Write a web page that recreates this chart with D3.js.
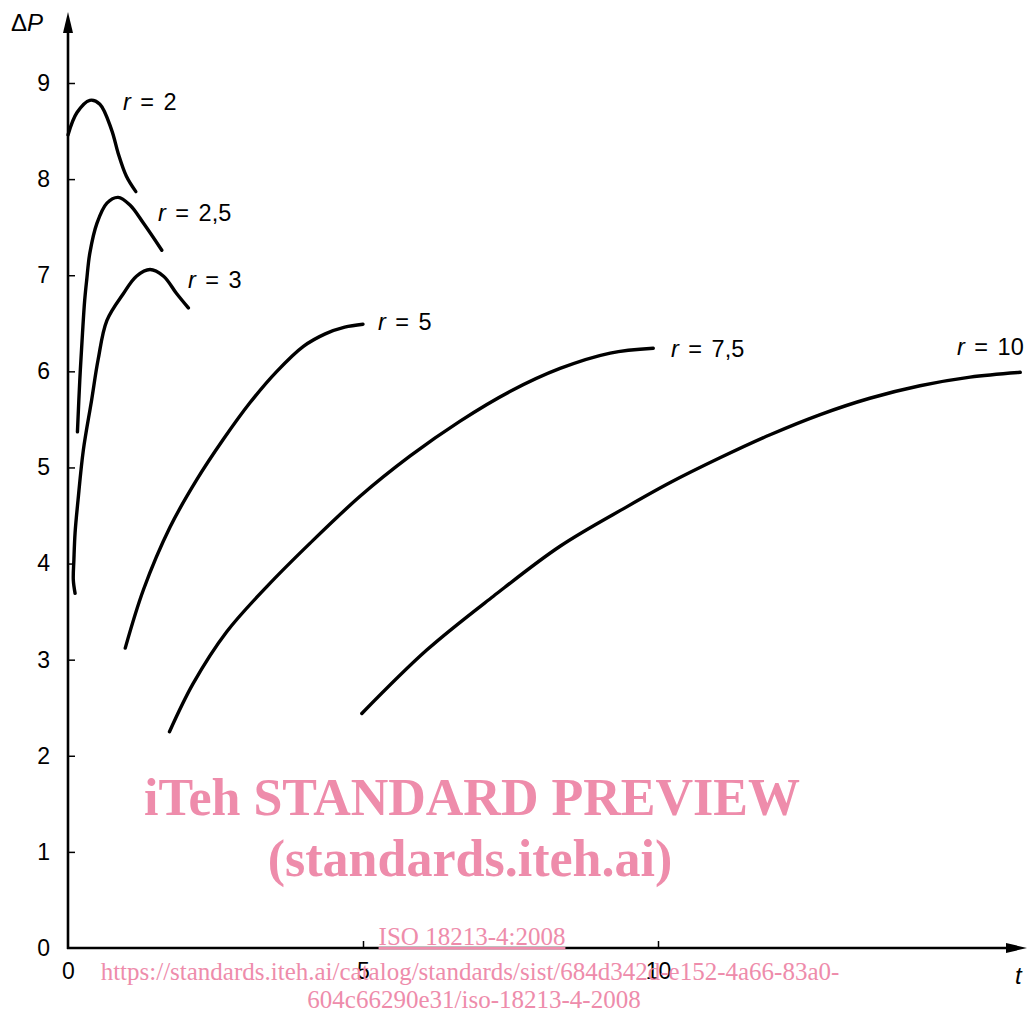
<!DOCTYPE html>
<html>
<head>
<meta charset="utf-8">
<script src="https://cdn.jsdelivr.net/npm/d3@7"></script>
<style>
  body { margin: 0; background: #fff; }
  svg { display: block; }
  .tick text { font-family: "Liberation Sans", Arial, sans-serif; font-size: 23px; fill: #000; }
  .lbl { font-family: "Liberation Sans", Arial, sans-serif; font-size: 23.5px; fill: #000; }
  .wm { font-family: "Liberation Serif", "Times New Roman", serif; fill: #ee8cab; }
</style>
</head>
<body>
<div id="chart"></div>
<script>
// curves: t (x) and deltaP (y)
const r2_t = [0, 0.15, 0.37, 0.54, 0.74, 0.85, 0.99, 1.15];
const r2_p = [8.46, 8.69, 8.82, 8.78, 8.51, 8.27, 8.03, 7.87];

const r25_t = [0.16, 0.20, 0.246, 0.283, 0.317, 0.37, 0.49, 0.66, 0.85, 1.05, 1.28, 1.59];
const r25_p = [5.37, 5.91, 6.40, 6.74, 6.95, 7.23, 7.54, 7.75, 7.81, 7.73, 7.54, 7.26];

const r3_t = [0.12, 0.09, 0.10, 0.12, 0.17, 0.26, 0.40, 0.51, 0.66, 0.94, 1.16, 1.39, 1.62, 1.84, 2.04];
const r3_p = [3.69, 3.83, 4.04, 4.32, 4.66, 5.18, 5.70, 6.12, 6.53, 6.81, 6.99, 7.06, 6.99, 6.81, 6.66];

const r5_t = [0.97, 1.28, 1.73, 2.18, 2.63, 3.08, 3.54, 3.99, 4.36, 4.69, 5.00];
const r5_p = [3.12, 3.73, 4.38, 4.87, 5.29, 5.67, 6.00, 6.26, 6.39, 6.46, 6.49];

const r75_t = [1.72, 2.12, 2.69, 3.37, 4.10, 4.95, 5.80, 6.64, 7.49, 8.34, 9.19, 9.92];
const r75_p = [2.25, 2.75, 3.29, 3.76, 4.21, 4.70, 5.12, 5.48, 5.79, 6.03, 6.19, 6.24];

const r10_t = [4.98, 6.08, 7.21, 8.34, 9.47, 10.20, 11.05, 11.90, 12.75, 13.59, 14.44, 15.29, 16.14];
const r10_p = [2.44, 3.10, 3.66, 4.18, 4.59, 4.84, 5.10, 5.34, 5.55, 5.72, 5.85, 5.94, 5.99];

const curveNames = ["2", "2,5", "3", "5", "7,5", "10"];
const yTicks = [0, 1, 2, 3, 4, 5, 6, 7, 8, 9];
const xTicks = [0, 5, 10];

const W = 1034, H = 1016;
const svg = d3.select("#chart").append("svg").attr("width", W).attr("height", H);

const x = d3.scaleLinear().domain([0, 10]).range([68, 658]);
const y = d3.scaleLinear().domain([0, 9]).range([948, 83]);

// axes
const yAxis = svg.append("g").attr("transform", "translate(" + x(0) + ",0)")
  .call(d3.axisLeft(y).tickValues(yTicks).tickSize(-7).tickPadding(18).tickFormat(d3.format("d")));
const xAxis = svg.append("g").attr("transform", "translate(0," + y(0) + ")")
  .call(d3.axisBottom(x).tickValues(xTicks).tickSize(-7).tickPadding(15).tickFormat(d3.format("d")));
[yAxis, xAxis].forEach(g => {
  g.select(".domain").remove();
  g.selectAll(".tick line").attr("stroke", "#000").attr("stroke-width", 1.5)
    .filter(d => d === 0).remove();
});

svg.append("line").attr("x1", x(0)).attr("x2", x(0)).attr("y1", y(0) + 1).attr("y2", 30)
  .attr("stroke", "#000").attr("stroke-width", 2.6);
svg.append("path").attr("d", "M" + x(0) + ",12L" + (x(0) - 5) + ",33L" + (x(0) + 5) + ",33Z").attr("fill", "#000");
svg.append("line").attr("x1", x(0) - 1).attr("x2", 1010).attr("y1", y(0)).attr("y2", y(0))
  .attr("stroke", "#000").attr("stroke-width", 2.6);
svg.append("path").attr("d", "M1027," + y(0) + "L1006," + (y(0) - 5) + "L1006," + (y(0) + 5) + "Z").attr("fill", "#000");

svg.append("text").attr("class", "lbl").attr("x", 11).attr("y", 31).style("font-size", "24px")
  .html('\u0394<tspan font-style="italic">P</tspan>');
svg.append("text").attr("class", "lbl").attr("x", 1015).attr("y", 984).style("font-size", "24px")
  .attr("font-style", "italic").text("t");

// curves
const series = [[r2_t, r2_p], [r25_t, r25_p], [r3_t, r3_p], [r5_t, r5_p], [r75_t, r75_p], [r10_t, r10_p]];
const line = d3.line().x(d => x(d[0])).y(d => y(d[1])).curve(d3.curveCatmullRom.alpha(0.5));
svg.append("g").selectAll("path").data(series).join("path")
  .attr("d", s => line(s[0].map((t, i) => [t, s[1][i]])))
  .attr("fill", "none").attr("stroke", "#000").attr("stroke-width", 3.4)
  .attr("stroke-linecap", "round").attr("stroke-linejoin", "round");

// curve labels
const labelPos = [[123, 110], [158, 221], [188, 288], [378, 330], [671, 357], [957, 355]];
svg.append("g").selectAll("text").data(curveNames).join("text")
  .attr("class", "lbl")
  .attr("x", (d, i) => labelPos[i][0]).attr("y", (d, i) => labelPos[i][1])
  .attr("word-spacing", 3)
  .html(d => '<tspan font-style="italic">r</tspan> = ' + d);

// watermark
svg.append("text").attr("class", "wm").attr("x", 472).attr("y", 815).attr("text-anchor", "middle")
  .attr("font-size", 52).attr("font-weight", "bold").text("iTeh STANDARD PREVIEW");
svg.append("text").attr("class", "wm").attr("x", 470).attr("y", 876).attr("text-anchor", "middle")
  .attr("font-size", 52).attr("font-weight", "bold").text("(standards.iteh.ai)");
svg.append("text").attr("class", "wm").attr("x", 472).attr("y", 945).attr("text-anchor", "middle")
  .attr("font-size", 25).attr("text-decoration", "underline").text("ISO 18213-4:2008");
svg.append("text").attr("class", "wm").attr("x", 470).attr("y", 980).attr("text-anchor", "middle")
  .attr("font-size", 25).text("https://standards.iteh.ai/catalog/standards/sist/684d342d-e152-4a66-83a0-");
svg.append("text").attr("class", "wm").attr("x", 474).attr("y", 1008).attr("text-anchor", "middle")
  .attr("font-size", 25).text("604c66290e31/iso-18213-4-2008");
</script>
</body>
</html>
